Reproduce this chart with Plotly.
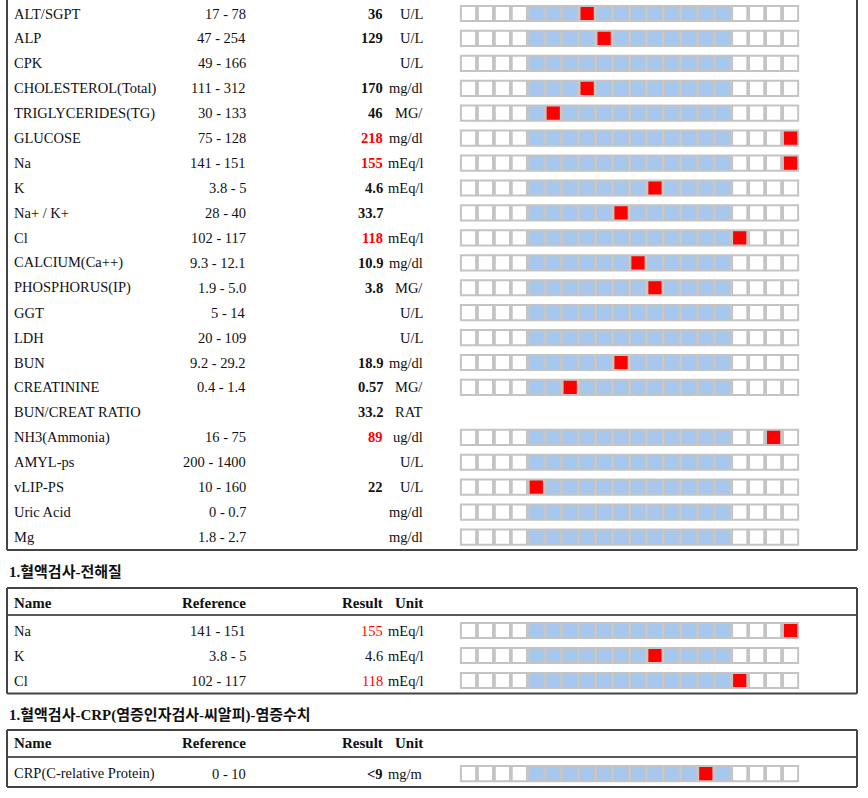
import plotly.graph_objects as go

# ---------------- data ----------------
names = ["ALT/SGPT", "ALP", "CPK", "CHOLESTEROL(Total)", "TRIGLYCERIDES(TG)", "GLUCOSE",
         "Na", "K", "Na+ / K+", "Cl", "CALCIUM(Ca++)", "PHOSPHORUS(IP)", "GGT", "LDH",
         "BUN", "CREATININE", "BUN/CREAT RATIO", "NH3(Ammonia)", "AMYL-ps", "vLIP-PS",
         "Uric Acid", "Mg"]
refs = ["17 - 78", "47 - 254", "49 - 166", "111 - 312", "30 - 133", "75 - 128",
        "141 - 151", "3.8 - 5", "28 - 40", "102 - 117", "9.3 - 12.1", "1.9 - 5.0", "5 - 14",
        "20 - 109", "9.2 - 29.2", "0.4 - 1.4", "", "16 - 75", "200 - 1400", "10 - 160",
        "0 - 0.7", "1.8 - 2.7"]
results = ["36", "129", "", "170", "46", "218", "155", "4.6", "33.7", "118", "10.9", "3.8",
           "", "", "18.9", "0.57", "33.2", "89", "", "22", "", ""]
units = ["U/L", "U/L", "U/L", "mg/dl", "MG/", "mg/dl", "mEq/l", "mEq/l", "", "mEq/l",
         "mg/dl", "MG/", "U/L", "U/L", "mg/dl", "MG/", "RAT", "ug/dl", "U/L", "U/L",
         "mg/dl", "mg/dl"]
abnormal = [False, False, False, False, False, True, True, False, False, True, False, False,
            False, False, False, False, False, True, False, False, False, False]
has_grid = [True] * 16 + [False] + [True] * 5
marker_cell = [7, 8, None, 7, 5, 19, 19, 11, 9, 16, 10, 11, None, None, 9, 6, None, 18,
               None, 4, None, None]

elec_title = "1.혈액검사-전해질"
elec_names = ["Na", "K", "Cl"]
elec_refs = ["141 - 151", "3.8 - 5", "102 - 117"]
elec_results = ["155", "4.6", "118"]
elec_units = ["mEq/l", "mEq/l", "mEq/l"]
elec_abnormal = [True, False, True]
elec_marker = [19, 11, 16]

crp_title = "1.혈액검사-CRP(염증인자검사-씨알피)-염증수치"
crp_names = ["CRP(C-relative Protein)"]
crp_refs = ["0 - 10"]
crp_results = ["<9"]
crp_units = ["mg/m"]
crp_abnormal = [False]
crp_marker = [14]

header = ["Name", "Reference", "Result", "Unit"]

# ---------------- layout constants ----------------
W, H = 868, 798
N_CELLS = 20
NORMAL_LO, NORMAL_HI = 4, 15
GRID_X0 = 468.5
CELL_PITCH = 16.95
NAME_X, REF_X, RES_X, UNIT_X = 13, 247, 384, 424
SERIF = "Liberation Serif, Times New Roman, serif"
FS = 14.5
WHITE, BLUE, RED = "#ffffff", "#a6c8ee", "#ff0000"
BORDER = "#444444"

fig = go.Figure()
annotations = []
shapes = []

cx, cy, cc = [], [], []


def add_grid(y, mark):
    for i in range(N_CELLS):
        cx.append(GRID_X0 + i * CELL_PITCH)
        cy.append(y)
        if mark is not None and i == mark:
            cc.append(RED)
        elif NORMAL_LO <= i <= NORMAL_HI:
            cc.append(BLUE)
        else:
            cc.append(WHITE)


def txt(x, y, text, anchor, bold=False, color="#111111", size=FS, family=SERIF):
    if text == "":
        return
    t = "<b>%s</b>" % text if bold else text
    annotations.append(dict(x=x, y=y, xref="x", yref="y", text=t, showarrow=False,
                            xanchor=anchor, yanchor="middle", borderpad=0,
                            font=dict(family=family, size=size, color=color)))


def add_row(y, name, ref, res, unit, abn, grid, mark, bold_res=True):
    txt(NAME_X, y, name, "left")
    txt(REF_X, y, ref, "right")
    txt(RES_X, y, res, "right", bold=bold_res, color=RED if abn else "#111111")
    txt(UNIT_X, y, unit, "right")
    if grid:
        add_grid(y, mark)


def hline(y, x0=7, x1=857, w=2, color=BORDER):
    shapes.append(dict(type="line", xref="x", yref="y", x0=x0, x1=x1, y0=y, y1=y,
                       line=dict(color=color, width=w)))


def vline(x, y0, y1, w=2, color=BORDER):
    shapes.append(dict(type="line", xref="x", yref="y", x0=x, x1=x, y0=y0, y1=y1,
                       line=dict(color=color, width=w)))


# ---------------- main table ----------------
ROW0_Y, ROW_PITCH = 13.5, 24.93
for r in range(len(names)):
    y = ROW0_Y + r * ROW_PITCH
    add_row(y, names[r], refs[r], results[r], units[r], abnormal[r], has_grid[r], marker_cell[r])
main_bottom = 550
vline(7, -5, main_bottom)
vline(857, -5, main_bottom)
hline(main_bottom)


def sub_table(title_y, top, header_y, sep_y, row0, pitch, bottom,
              title, nms, rfs, rss, uns, abns, marks, bold_res):
    txt(8, title_y, "<b>%s</b>" % title, "left", size=15,
        family="Liberation Serif, Noto Sans CJK KR")
    hline(top)
    hline(sep_y, w=1.5, color="#222222")
    hline(bottom)
    vline(7, top, bottom)
    vline(857, top, bottom)
    txt(NAME_X, header_y, header[0], "left", bold=True, size=15)
    txt(REF_X, header_y, header[1], "right", bold=True, size=15)
    txt(RES_X, header_y, header[2], "right", bold=True, size=15)
    txt(UNIT_X, header_y, header[3], "right", bold=True, size=15)
    for k in range(len(nms)):
        y = row0 + k * pitch
        add_row(y, nms[k], rfs[k], rss[k], uns[k], abns[k], True, marks[k],
                bold_res=bold_res[k])


sub_table(572, 588, 603, 615, 630.5, 25, 693.5, elec_title, elec_names, elec_refs,
          elec_results, elec_units, elec_abnormal, elec_marker, [False, False, False])
sub_table(715, 730, 743, 757, 773.7, 25, 787, crp_title, crp_names, crp_refs,
          crp_results, crp_units, crp_abnormal, crp_marker, [True])

fig.add_trace(go.Scatter(
    x=cx, y=cy, mode="markers", hoverinfo="skip",
    marker=dict(symbol="square", size=15.2, color=cc,
                line=dict(color="#c4c4c4", width=2)),
))

fig.update_layout(
    width=W, height=H, margin=dict(l=0, r=0, t=0, b=0),
    paper_bgcolor="white", plot_bgcolor="white", showlegend=False,
    xaxis=dict(range=[0, W], visible=False, fixedrange=True),
    yaxis=dict(range=[H, 0], visible=False, fixedrange=True),
    annotations=annotations, shapes=shapes,
)

fig.write_html(
    "out.html",
    config={"displayModeBar": False},
    post_script="document.body.style.margin='0';document.body.style.padding='0';"
                "document.documentElement.style.overflow='hidden';",
)
